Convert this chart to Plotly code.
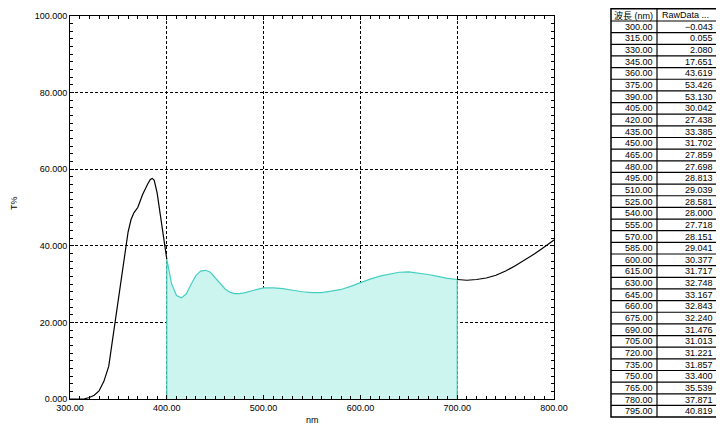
import plotly.graph_objects as go

# traced spectrum (wavelength nm, T%)
wavelength = [300, 305, 310, 315, 320, 325, 330, 335, 340, 345, 350, 355, 360, 363, 366, 370, 375,
              380, 383, 385, 387, 390, 393, 396, 400, 405, 410, 415, 420, 425, 430, 435, 440,
              445, 450, 455, 460, 465, 470, 475, 480, 490, 500, 510, 520, 530, 540, 550, 560,
              570, 580, 590, 600, 610, 620, 630, 640, 650, 660, 670, 680, 690, 700, 710, 720,
              730, 740, 750, 760, 770, 780, 790, 800]
transmittance = [-0.04, 0.0, 0.02, 0.06, 0.4, 1.0, 2.1, 4.6, 8.5, 17.6, 26.5, 35.5, 43.6, 46.8, 48.6, 50.0, 53.4,
                 56.0, 57.3, 57.6, 57.1, 53.8, 48.5, 42.5, 36.5, 30.0, 27.0, 26.4, 27.4, 29.9, 32.2, 33.4, 33.6,
                 33.1, 31.7, 30.3, 28.8, 27.9, 27.5, 27.5, 27.7, 28.4, 29.0, 29.0, 28.8, 28.4, 28.0, 27.8, 27.8,
                 28.15, 28.6, 29.4, 30.4, 31.3, 32.1, 32.7, 33.1, 33.2, 32.9, 32.5, 32.0, 31.5, 31.2, 31.0, 31.2,
                 31.6, 32.3, 33.4, 34.8, 36.3, 37.9, 39.7, 41.5]

# sampled table data
table_header = ["波長 (nm)", "RawData ..."]
table_wl = ["300.00", "315.00", "330.00", "345.00", "360.00", "375.00", "390.00", "405.00", "420.00",
            "435.00", "450.00", "465.00", "480.00", "495.00", "510.00", "525.00", "540.00", "555.00",
            "570.00", "585.00", "600.00", "615.00", "630.00", "645.00", "660.00", "675.00", "690.00",
            "705.00", "720.00", "735.00", "750.00", "765.00", "780.00", "795.00"]
table_raw = ["\u22120.043", "0.055", "2.080", "17.651", "43.619", "53.426", "53.130", "30.042", "27.438",
             "33.385", "31.702", "27.859", "27.698", "28.813", "29.039", "28.581", "28.000", "27.718",
             "28.151", "29.041", "30.377", "31.717", "32.748", "33.167", "32.843", "32.240", "31.476",
             "31.013", "31.221", "31.857", "33.400", "35.539", "37.871", "40.819"]

x_ticks = [300, 400, 500, 600, 700, 800]
y_ticks = [0, 20, 40, 60, 80, 100]
band = (400, 700)

W, H = 724, 430
OFF = 8  # page body margin offset


def px(x):
    return (x - OFF) / W


def py(y):
    return (H - (y - OFF)) / H


left = [(w, t) for w, t in zip(wavelength, transmittance) if w <= band[0]]
right = [(w, t) for w, t in zip(wavelength, transmittance) if w >= band[1]]
mid = [(w, t) for w, t in zip(wavelength, transmittance) if band[0] <= w <= band[1]]

fig = go.Figure()
# filled band
fx = [mid[0][0]] + [p[0] for p in mid] + [mid[-1][0]]
fy = [0] + [p[1] for p in mid] + [0]
fig.add_trace(go.Scatter(x=fx, y=fy, mode="lines", fill="toself", fillcolor="#cdf5f0",
                         line=dict(color="#45cfc0", width=1.2), hoverinfo="skip"))
for seg in (left, right):
    fig.add_trace(go.Scatter(x=[p[0] for p in seg], y=[p[1] for p in seg], mode="lines",
                             line=dict(color="black", width=1.2)))

font = dict(family="Liberation Sans, Arial, Noto Sans CJK JP", size=9, color="black")
fig.update_xaxes(range=[300, 800], tickvals=x_ticks, ticktext=[f"{v:.2f}" for v in x_ticks],
                 showline=True, linecolor="black", linewidth=1, mirror="allticks",
                 ticks="inside", ticklen=4, tickcolor="black",
                 minor=dict(dtick=10, ticks="inside", ticklen=3, tickcolor="black", showgrid=False),
                 showgrid=True, gridcolor="black", griddash="3px,2px", gridwidth=1,
                 zeroline=False, tickfont=font, domain=[px(70), px(554)], automargin=False)
fig.update_yaxes(range=[0, 100], tickvals=y_ticks, ticktext=[f"{v:.3f}" for v in y_ticks],
                 showline=True, linecolor="black", linewidth=1, mirror="allticks",
                 ticks="inside", ticklen=4, tickcolor="black",
                 minor=dict(dtick=2, ticks="inside", ticklen=3, tickcolor="black", showgrid=False),
                 showgrid=True, gridcolor="black", griddash="3px,2px", gridwidth=1,
                 zeroline=False, tickfont=font, domain=[py(399), py(16)], automargin=False)

# ---- data table drawn with shapes + text ----
tx0, tx1, tx2 = 611, 657, 717
hy0, hy1 = 8.8, 21
row_h = 11.65
n = len(table_wl)
ybot = hy1 + n * row_h

shapes = []
shapes.append(dict(type="rect", xref="paper", yref="paper", x0=px(tx0), x1=px(tx2), y0=py(hy0), y1=py(ybot),
                   line=dict(color="black", width=1.5), fillcolor="white", layer="below"))
shapes.append(dict(type="line", xref="paper", yref="paper", x0=px(tx1), x1=px(tx1), y0=py(hy0), y1=py(ybot),
                   line=dict(color="black", width=1.2)))
for i in range(n):
    yy = hy1 + i * row_h
    shapes.append(dict(type="line", xref="paper", yref="paper", x0=px(tx0), x1=px(tx2), y0=py(yy), y1=py(yy),
                       line=dict(color="black", width=1.2)))
fig.update_layout(shapes=shapes)

hfont = dict(family="Liberation Sans, Noto Sans CJK JP", size=9, color="black")
fig.add_annotation(text=table_header[0], xref="paper", yref="paper", x=px(tx0 + 1),
                   y=py((hy0 + hy1) / 2 + 0.5), xanchor="left", yanchor="middle", showarrow=False, font=hfont)
fig.add_annotation(text=table_header[1], xref="paper", yref="paper", x=px(tx1 + 3),
                   y=py((hy0 + hy1) / 2 + 0.5), xanchor="left", yanchor="middle", showarrow=False, font=hfont)
for i, (a, b) in enumerate(zip(table_wl, table_raw)):
    yc = hy1 + (i + 0.5) * row_h
    fig.add_annotation(text=a, xref="paper", yref="paper", x=px(tx1 - 2), y=py(yc),
                       xanchor="right", yanchor="middle", showarrow=False, font=font)
    fig.add_annotation(text=b, xref="paper", yref="paper", x=px(tx2 - 2), y=py(yc),
                       xanchor="right", yanchor="middle", showarrow=False, font=font)

fig.add_annotation(text="T%", xref="paper", yref="paper", x=px(14), y=py(203),
                   textangle=-90, showarrow=False, font=font, xanchor="center", yanchor="middle")
fig.add_annotation(text="nm", xref="paper", yref="paper", x=px(312), y=py(420),
                   showarrow=False, font=font, xanchor="center", yanchor="middle")

fig.update_layout(width=W, height=H, margin=dict(l=0, r=0, t=0, b=0),
                  plot_bgcolor="white", paper_bgcolor="white", showlegend=False,
                  font=font)
fig.write_html("out.html")
